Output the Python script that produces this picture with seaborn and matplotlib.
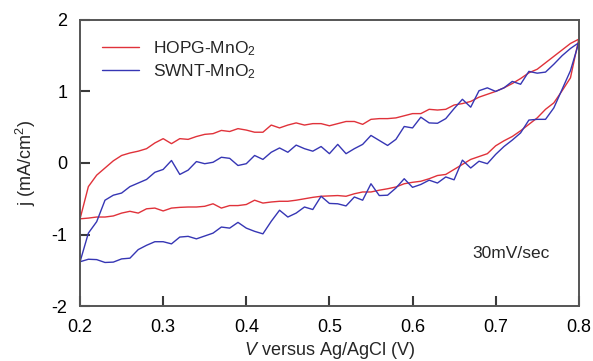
import numpy as np
import pandas as pd
import seaborn as sns
import matplotlib
matplotlib.use("Agg")
import matplotlib.pyplot as plt

# potential grid (V vs Ag/AgCl), one point every 10 mV
volts = [0.20, 0.21, 0.22, 0.23, 0.24, 0.25, 0.26, 0.27, 0.28, 0.29,
         0.30, 0.31, 0.32, 0.33, 0.34, 0.35, 0.36, 0.37, 0.38, 0.39,
         0.40, 0.41, 0.42, 0.43, 0.44, 0.45, 0.46, 0.47, 0.48, 0.49,
         0.50, 0.51, 0.52, 0.53, 0.54, 0.55, 0.56, 0.57, 0.58, 0.59,
         0.60, 0.61, 0.62, 0.63, 0.64, 0.65, 0.66, 0.67, 0.68, 0.69,
         0.70, 0.71, 0.72, 0.73, 0.74, 0.75, 0.76, 0.77, 0.78, 0.79, 0.80]

# current density (mA/cm2), anodic (upper) and cathodic (lower) branches, listed by rising V
hopg_up = [-0.78, -0.33, -0.17, -0.07, 0.03, 0.105, 0.14, 0.165, 0.20, 0.28,
           0.34, 0.27, 0.34, 0.33, 0.37, 0.40, 0.41, 0.455, 0.44, 0.48,
           0.46, 0.43, 0.43, 0.53, 0.49, 0.53, 0.56, 0.53, 0.55, 0.55,
           0.52, 0.55, 0.58, 0.58, 0.54, 0.61, 0.62, 0.62, 0.63, 0.66,
           0.69, 0.69, 0.75, 0.74, 0.75, 0.81, 0.83, 0.86, 0.92, 0.96,
           1.00, 1.05, 1.11, 1.18, 1.26, 1.31, 1.40, 1.49, 1.58, 1.67, 1.73]
hopg_down = [-0.78, -0.77, -0.755, -0.755, -0.74, -0.70, -0.675, -0.70, -0.64, -0.63,
             -0.67, -0.63, -0.62, -0.615, -0.615, -0.605, -0.57, -0.63, -0.595, -0.595,
             -0.58, -0.52, -0.56, -0.545, -0.535, -0.535, -0.52, -0.50, -0.48, -0.465,
             -0.46, -0.455, -0.465, -0.43, -0.405, -0.405, -0.38, -0.36, -0.335, -0.29,
             -0.27, -0.255, -0.22, -0.175, -0.16, -0.09, -0.02, 0.05, 0.09, 0.13,
             0.24, 0.31, 0.37, 0.45, 0.54, 0.63, 0.75, 0.84, 1.01, 1.19, 1.73]
swnt_up = [-1.38, -0.98, -0.82, -0.52, -0.45, -0.42, -0.33, -0.28, -0.23, -0.13,
           -0.09, 0.035, -0.16, -0.10, 0.02, -0.01, 0.01, 0.08, 0.065, -0.035,
           -0.01, 0.105, 0.05, 0.15, 0.21, 0.15, 0.25, 0.20, 0.165, 0.23,
           0.13, 0.26, 0.13, 0.20, 0.26, 0.385, 0.315, 0.245, 0.33, 0.51,
           0.49, 0.64, 0.56, 0.555, 0.62, 0.76, 0.89, 0.78, 1.01, 1.05,
           1.00, 1.05, 1.14, 1.10, 1.28, 1.255, 1.27, 1.38, 1.50, 1.60, 1.68]
swnt_down = [-1.38, -1.345, -1.35, -1.39, -1.385, -1.34, -1.33, -1.21, -1.15, -1.10,
             -1.10, -1.13, -1.035, -1.025, -1.06, -1.02, -0.98, -0.895, -0.91, -0.83,
             -0.91, -0.955, -0.99, -0.815, -0.66, -0.755, -0.70, -0.615, -0.65, -0.465,
             -0.565, -0.57, -0.60, -0.475, -0.52, -0.29, -0.455, -0.45, -0.35, -0.22,
             -0.34, -0.30, -0.24, -0.28, -0.195, -0.235, 0.04, -0.07, 0.025, -0.01,
             0.12, 0.23, 0.32, 0.42, 0.60, 0.61, 0.61, 0.77, 1.03, 1.29, 1.68]

labels = ["HOPG-MnO$_2$", "SWNT-MnO$_2$"]
colors = ["#e0323a", "#3636b4"]
xticks = [0.2, 0.3, 0.4, 0.5, 0.6, 0.7, 0.8]
yticks = [-2, -1, 0, 1, 2]

# build a closed CV loop: forward sweep then the way back
rows = []
for lab, up, down in [(labels[0], hopg_up, hopg_down), (labels[1], swnt_up, swnt_down)]:
    vv = volts + volts[::-1]
    jj = up + down[::-1]
    for v, j in zip(vv, jj):
        rows.append({"V": v, "j": j, "sample": lab})
df = pd.DataFrame(rows)

sns.set_style("ticks", {"xtick.direction": "in", "ytick.direction": "in"})
plt.rcParams['font.family'] = ['Liberation Sans', 'DejaVu Sans']
plt.rcParams['mathtext.fontset'] = 'custom'
plt.rcParams['mathtext.rm'] = 'Liberation Sans'
plt.rcParams['mathtext.it'] = 'Liberation Sans:italic'
plt.rcParams['axes.unicode_minus'] = False

fig = plt.figure(figsize=(5.93, 3.61), dpi=100)
ax = fig.add_axes([0.135, 0.152, 0.841, 0.793])

sns.lineplot(data=df, x="V", y="j", hue="sample", palette=colors, sort=False,
             estimator=None, linewidth=1.0, ax=ax)

ax.set_xlim(0.2, 0.8)
ax.set_ylim(-2, 2)
ax.set_xticks(xticks)
ax.set_yticks(yticks)
ax.tick_params(length=7, width=1.5, color="#3a3a3a", labelsize=13, labelcolor="black",
               bottom=True, left=True, top=False, right=False, pad=9)
for s in ax.spines.values():
    s.set_color("#555555")
    s.set_linewidth(1.4)

ax.set_xlabel("$V$ versus Ag/AgCl (V)", fontsize=13, labelpad=3)
ax.set_ylabel("j (mA/cm$^2$)", fontsize=13, labelpad=10)

ax.text(0.718, -1.26, "30mV/sec", fontsize=12.5, ha="center", va="center")

ax.legend(loc="upper left", frameon=False, fontsize=12.5, handlelength=2.1,
          bbox_to_anchor=(0.02, 0.975), borderaxespad=0.3, labelspacing=0.25)

fig.savefig("out.png", dpi=100)
